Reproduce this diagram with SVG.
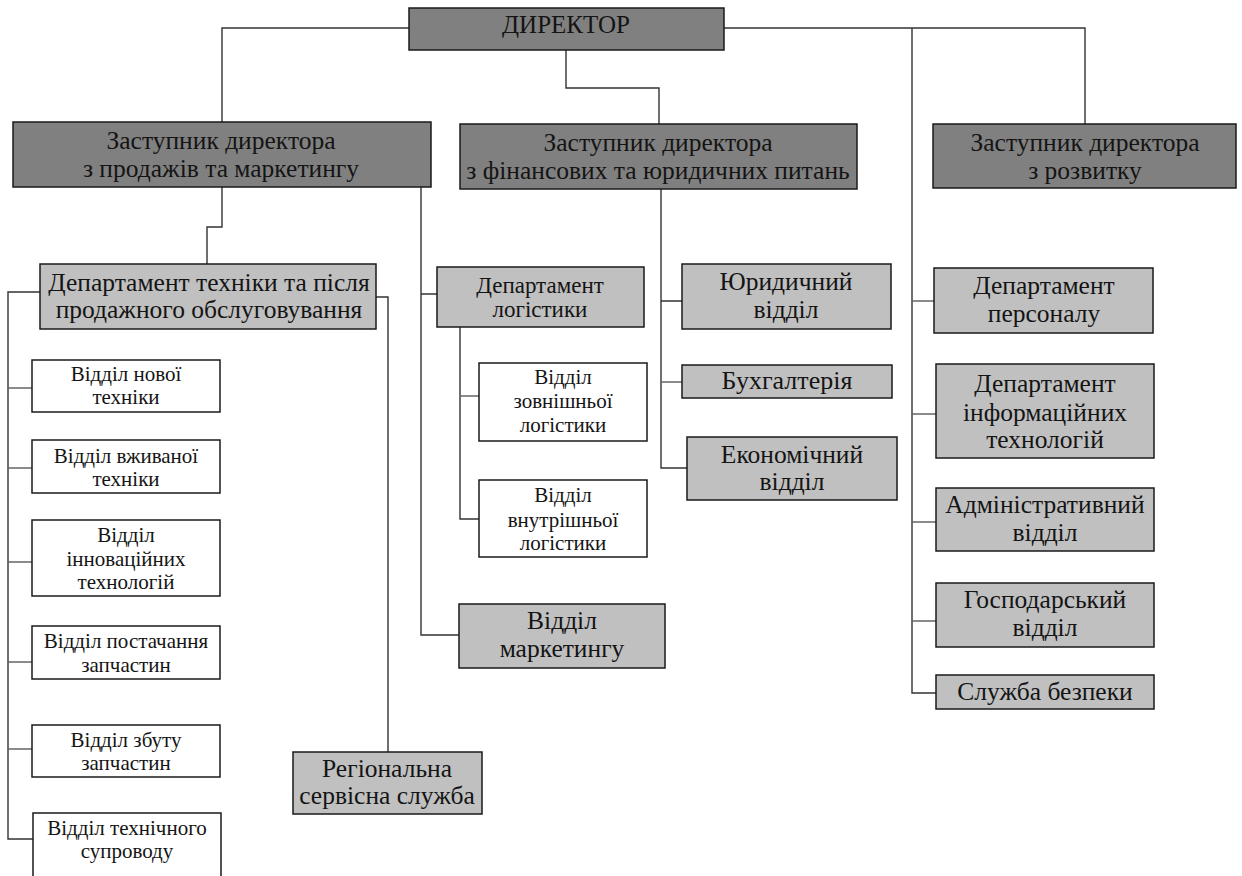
<svg xmlns="http://www.w3.org/2000/svg" width="1242" height="876" viewBox="0 0 1242 876">
<style>
.dk{fill:#808080;stroke:#1a1a1a;stroke-width:1.5}
.lt{fill:#c0c0c0;stroke:#1a1a1a;stroke-width:1.5}
.wh{fill:#ffffff;stroke:#1a1a1a;stroke-width:1.5}
text{font-family:"Liberation Serif","Times New Roman",serif;fill:#141414;text-anchor:middle}
.fb{font-size:25.5px}.fd{font-size:25px}.fw{font-size:21px}.fl{font-size:23px}.fk{font-size:26px}
.c{fill:none;stroke:#333;stroke-width:1.4}
.s{fill:none;stroke:#666;stroke-width:1.5}
</style>
<rect width="1242" height="876" fill="#fff"/>
<g id="connectors">
<path class="c" d="M410,28 H222 V122"/>
<path class="c" d="M566,50 V88 H659 V124"/>
<path class="c" d="M724,28 H1085 V124"/>
<path class="c" d="M912,28 V693 H936"/>
<path class="s" d="M912,301 H934 M912,414 H936 M912,522 H936 M912,621 H936"/>
<path class="c" d="M222,187 V227 H207 V264"/>
<path class="c" d="M421,187 V635 H459 M421,294 H437"/>
<path class="c" d="M460,327 V519 H479"/>
<path class="s" d="M460,396 H479"/>
<path class="c" d="M661,189 V468 H687 M661,301 H682"/>
<path class="s" d="M661,382 H682"/>
<path class="c" d="M40,292 H8 V839 H33"/>
<path class="s" d="M8,388 H32 M8,468 H32 M8,562 H32 M8,662 H32 M8,749 H32"/>
<path class="c" d="M376,297 H388 V752"/>
</g>
<g id="director"><rect class="dk" x="409" y="8" width="315" height="42"/><text class="fd" x="566" y="33">ДИРЕКТОР</text></g>
<g id="zast1"><rect class="dk" x="13" y="122" width="418" height="65"/><text class="fb" x="221" y="149">Заступник директора</text><text class="fb" x="221" y="177">з продажів та маркетингу</text></g>
<g id="zast2"><rect class="dk" x="460" y="124" width="397" height="65"/><text class="fb" x="658" y="151">Заступник директора</text><text class="fb" x="658" y="179">з фінансових та юридичних питань</text></g>
<g id="zast3"><rect class="dk" x="933" y="124" width="303" height="64"/><text class="fb" x="1085" y="151">Заступник директора</text><text class="fb" x="1085" y="179">з розвитку</text></g>
<g id="dept-tech"><rect class="lt" x="40" y="264" width="336" height="65"/><text class="fb" x="209" y="291">Департамент техніки та після</text><text class="fb" x="209" y="318">продажного обслуговування</text></g>
<g id="dept-log"><rect class="lt" x="437" y="267" width="207" height="60"/><text class="fl" x="540" y="293">Департамент</text><text class="fl" x="540" y="317">логістики</text></g>
<g id="yur"><rect class="lt" x="682" y="264" width="209" height="65"/><text class="fb" x="786" y="290">Юридичний</text><text class="fb" x="786" y="318">відділ</text></g>
<g id="buh"><rect class="lt" x="682" y="365" width="210" height="33"/><text class="fk" x="787" y="389">Бухгалтерія</text></g>
<g id="econ"><rect class="lt" x="687" y="437" width="210" height="63"/><text class="fb" x="792" y="463">Економічний</text><text class="fb" x="792" y="490">відділ</text></g>
<g id="log-ext"><rect class="wh" x="479" y="363" width="168" height="78"/><text class="fw" x="563" y="384">Відділ</text><text class="fw" x="563" y="408">зовнішньої</text><text class="fw" x="563" y="432">логістики</text></g>
<g id="log-int"><rect class="wh" x="479" y="480" width="168" height="77"/><text class="fw" x="563" y="502">Відділ</text><text class="fw" x="563" y="527">внутрішньої</text><text class="fw" x="563" y="550">логістики</text></g>
<g id="marketing"><rect class="lt" x="459" y="604" width="206" height="64"/><text class="fb" x="562" y="629">Відділ</text><text class="fb" x="562" y="657">маркетингу</text></g>
<g id="personal"><rect class="lt" x="934" y="268" width="219" height="65"/><text class="fb" x="1044" y="294">Департамент</text><text class="fb" x="1044" y="322">персоналу</text></g>
<g id="it"><rect class="lt" x="936" y="364" width="218" height="94"/><text class="fb" x="1045" y="392">Департамент</text><text class="fb" x="1045" y="421">інформаційних</text><text class="fb" x="1045" y="448">технологій</text></g>
<g id="admin"><rect class="lt" x="936" y="488" width="218" height="63"/><text class="fb" x="1045" y="513">Адміністративний</text><text class="fb" x="1045" y="541">відділ</text></g>
<g id="gosp"><rect class="lt" x="936" y="583" width="218" height="64"/><text class="fb" x="1045" y="608">Господарський</text><text class="fb" x="1045" y="636">відділ</text></g>
<g id="security"><rect class="lt" x="936" y="675" width="218" height="34"/><text class="fb" x="1045" y="700">Служба безпеки</text></g>
<g id="new-tech"><rect class="wh" x="32" y="360" width="188" height="52"/><text class="fw" x="126" y="381">Відділ нової</text><text class="fw" x="126" y="404">техніки</text></g>
<g id="used-tech"><rect class="wh" x="32" y="440" width="188" height="53"/><text class="fw" x="126" y="463">Відділ вживаної</text><text class="fw" x="126" y="486">техніки</text></g>
<g id="innov"><rect class="wh" x="32" y="520" width="188" height="76"/><text class="fw" x="126" y="542">Відділ</text><text class="fw" x="126" y="566">інноваційних</text><text class="fw" x="126" y="589">технологій</text></g>
<g id="supply"><rect class="wh" x="32" y="626" width="188" height="53"/><text class="fw" x="126" y="648">Відділ постачання</text><text class="fw" x="126" y="672">запчастин</text></g>
<g id="sales-parts"><rect class="wh" x="32" y="725" width="188" height="52"/><text class="fw" x="126" y="747">Відділ збуту</text><text class="fw" x="126" y="770">запчастин</text></g>
<g id="tech-support"><rect class="wh" x="33" y="813" width="188" height="70"/><text class="fw" x="127" y="835">Відділ технічного</text><text class="fw" x="127" y="858">супроводу</text></g>
<g id="regional"><rect class="lt" x="293" y="752" width="189" height="62"/><text class="fb" x="387" y="777">Регіональна</text><text class="fb" x="387" y="804">сервісна служба</text></g>
</svg>
